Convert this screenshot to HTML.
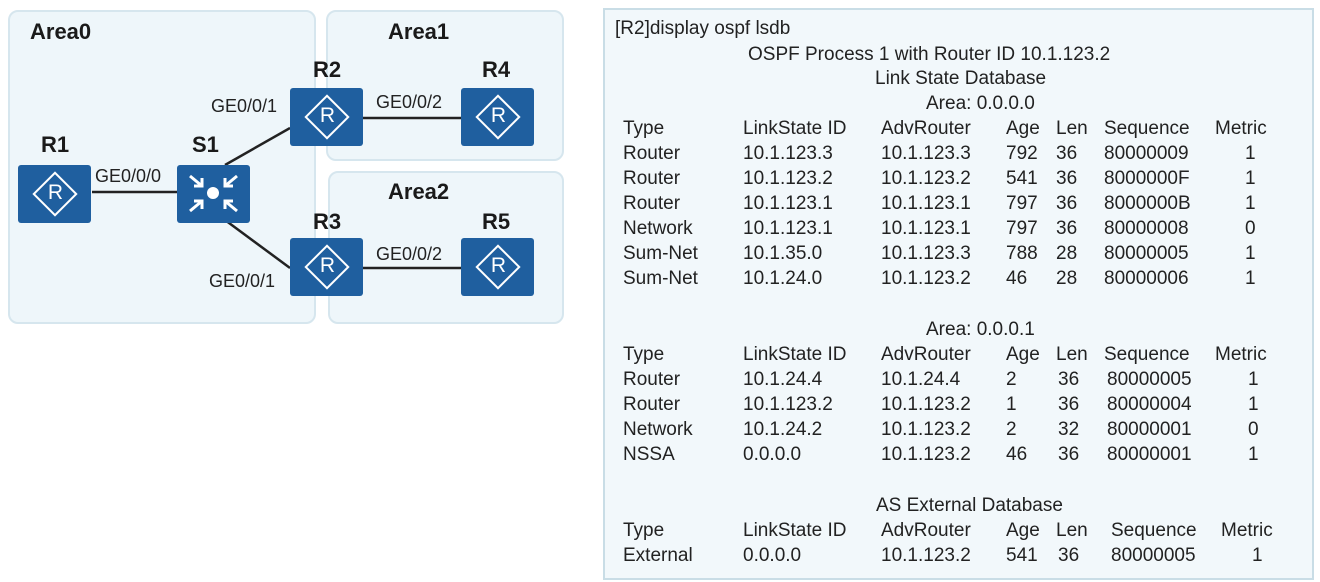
<!DOCTYPE html>
<html><head><meta charset="utf-8"><style>
body{margin:0;width:1320px;height:582px;background:#fff;position:relative;overflow:hidden;font-family:"Liberation Sans",sans-serif;color:#222}
.a{position:absolute;background:#eef6fa;border:2px solid #d6e6ee;border-radius:10px;box-sizing:border-box}
.t{position:absolute;font-size:19px;line-height:22px;white-space:nowrap}
.b{position:absolute;font-weight:bold;font-size:22px;line-height:24px;color:#1a1a1a}
.l{position:absolute;font-size:18px;line-height:20px;color:#222}
.r{position:absolute;width:73px;height:58px;background:#1f5f9f;border-radius:3px}
.r:before{content:"";position:absolute;left:21px;top:13px;width:28px;height:28px;border:2px solid #fff;transform:rotate(45deg)}
.r:after{content:"R";position:absolute;left:0;width:75px;top:16px;text-align:center;color:#fff;font-size:21px;line-height:24px}
</style></head><body>
<div class="a" style="left:8px;top:10px;width:308px;height:314px"></div>
<div class="a" style="left:326px;top:10px;width:238px;height:151px"></div>
<div class="a" style="left:328px;top:171px;width:236px;height:153px"></div>
<div class="a" style="left:603px;top:8px;width:711px;height:572px;border-radius:0;border-color:#c9dde6;background:#f2f8fb"></div>
<svg style="position:absolute;left:0;top:0" width="600" height="330">
<g stroke="#222" stroke-width="2.5">
<line x1="92" y1="192" x2="177" y2="192"/>
<line x1="225" y1="165" x2="290" y2="128"/>
<line x1="225" y1="220" x2="290" y2="268"/>
<line x1="363" y1="118" x2="461" y2="118"/>
<line x1="363" y1="268" x2="461" y2="268"/>
</g>
<rect x="177" y="165" width="73" height="58" rx="3" fill="#1f5f9f"/>
<circle cx="213" cy="193" r="6" fill="#fff"/>
<g stroke="#fff" stroke-width="3" fill="none">
<path d="M190 176 L202 186 M202 178 L202 186 L194 186"/>
<path d="M237 176 L225 186 M225 178 L225 186 L233 186"/>
<path d="M190 211 L202 201 M202 209 L202 201 L194 201"/>
<path d="M237 211 L225 201 M225 209 L225 201 L233 201"/>
</g>
</svg>
<div class="r" style="left:18px;top:165px"></div>
<div class="r" style="left:290px;top:88px"></div>
<div class="r" style="left:461px;top:88px"></div>
<div class="r" style="left:290px;top:238px"></div>
<div class="r" style="left:461px;top:238px"></div>
<div class="b" style="left:30px;top:20px">Area0</div>
<div class="b" style="left:388px;top:20px">Area1</div>
<div class="b" style="left:388px;top:180px">Area2</div>
<div class="b" style="left:41px;top:133px">R1</div>
<div class="b" style="left:192px;top:133px">S1</div>
<div class="b" style="left:313px;top:58px">R2</div>
<div class="b" style="left:482px;top:58px">R4</div>
<div class="b" style="left:313px;top:210px">R3</div>
<div class="b" style="left:482px;top:210px">R5</div>
<div class="l" style="left:95px;top:166px">GE0/0/0</div>
<div class="l" style="left:211px;top:96px">GE0/0/1</div>
<div class="l" style="left:376px;top:92px">GE0/0/2</div>
<div class="l" style="left:209px;top:271px">GE0/0/1</div>
<div class="l" style="left:376px;top:244px">GE0/0/2</div>

<div class="t" style="left:615px;top:18px">[R2]display ospf lsdb</div>
<div class="t" style="left:748px;top:44px">OSPF Process 1 with Router ID 10.1.123.2</div>
<div class="t" style="left:875px;top:68px">Link State Database</div>
<div class="t" style="left:926px;top:93px">Area: 0.0.0.0</div>
<div class="t" style="left:623px;top:118px">Type</div><div class="t" style="left:743px;top:118px">LinkState ID</div><div class="t" style="left:881px;top:118px">AdvRouter</div><div class="t" style="left:1006px;top:118px">Age</div><div class="t" style="left:1056px;top:118px">Len</div><div class="t" style="left:1104px;top:118px">Sequence</div><div class="t" style="left:1215px;top:118px">Metric</div>

<div class="t" style="left:623px;top:143px">Router</div><div class="t" style="left:743px;top:143px">10.1.123.3</div><div class="t" style="left:881px;top:143px">10.1.123.3</div><div class="t" style="left:1006px;top:143px">792</div><div class="t" style="left:1056px;top:143px">36</div><div class="t" style="left:1104px;top:143px">80000009</div><div class="t" style="left:1245px;top:143px">1</div>
<div class="t" style="left:623px;top:168px">Router</div><div class="t" style="left:743px;top:168px">10.1.123.2</div><div class="t" style="left:881px;top:168px">10.1.123.2</div><div class="t" style="left:1006px;top:168px">541</div><div class="t" style="left:1056px;top:168px">36</div><div class="t" style="left:1104px;top:168px">8000000F</div><div class="t" style="left:1245px;top:168px">1</div>
<div class="t" style="left:623px;top:193px">Router</div><div class="t" style="left:743px;top:193px">10.1.123.1</div><div class="t" style="left:881px;top:193px">10.1.123.1</div><div class="t" style="left:1006px;top:193px">797</div><div class="t" style="left:1056px;top:193px">36</div><div class="t" style="left:1104px;top:193px">8000000B</div><div class="t" style="left:1245px;top:193px">1</div>
<div class="t" style="left:623px;top:218px">Network</div><div class="t" style="left:743px;top:218px">10.1.123.1</div><div class="t" style="left:881px;top:218px">10.1.123.1</div><div class="t" style="left:1006px;top:218px">797</div><div class="t" style="left:1056px;top:218px">36</div><div class="t" style="left:1104px;top:218px">80000008</div><div class="t" style="left:1245px;top:218px">0</div>
<div class="t" style="left:623px;top:243px">Sum-Net</div><div class="t" style="left:743px;top:243px">10.1.35.0</div><div class="t" style="left:881px;top:243px">10.1.123.3</div><div class="t" style="left:1006px;top:243px">788</div><div class="t" style="left:1056px;top:243px">28</div><div class="t" style="left:1104px;top:243px">80000005</div><div class="t" style="left:1245px;top:243px">1</div>
<div class="t" style="left:623px;top:268px">Sum-Net</div><div class="t" style="left:743px;top:268px">10.1.24.0</div><div class="t" style="left:881px;top:268px">10.1.123.2</div><div class="t" style="left:1006px;top:268px">46</div><div class="t" style="left:1056px;top:268px">28</div><div class="t" style="left:1104px;top:268px">80000006</div><div class="t" style="left:1245px;top:268px">1</div>

<div class="t" style="left:926px;top:319px">Area: 0.0.0.1</div>
<div class="t" style="left:623px;top:344px">Type</div><div class="t" style="left:743px;top:344px">LinkState ID</div><div class="t" style="left:881px;top:344px">AdvRouter</div><div class="t" style="left:1006px;top:344px">Age</div><div class="t" style="left:1056px;top:344px">Len</div><div class="t" style="left:1104px;top:344px">Sequence</div><div class="t" style="left:1215px;top:344px">Metric</div>
<div class="t" style="left:623px;top:369px">Router</div><div class="t" style="left:743px;top:369px">10.1.24.4</div><div class="t" style="left:881px;top:369px">10.1.24.4</div><div class="t" style="left:1006px;top:369px">2</div><div class="t" style="left:1058px;top:369px">36</div><div class="t" style="left:1107px;top:369px">80000005</div><div class="t" style="left:1248px;top:369px">1</div>
<div class="t" style="left:623px;top:394px">Router</div><div class="t" style="left:743px;top:394px">10.1.123.2</div><div class="t" style="left:881px;top:394px">10.1.123.2</div><div class="t" style="left:1006px;top:394px">1</div><div class="t" style="left:1058px;top:394px">36</div><div class="t" style="left:1107px;top:394px">80000004</div><div class="t" style="left:1248px;top:394px">1</div>
<div class="t" style="left:623px;top:419px">Network</div><div class="t" style="left:743px;top:419px">10.1.24.2</div><div class="t" style="left:881px;top:419px">10.1.123.2</div><div class="t" style="left:1006px;top:419px">2</div><div class="t" style="left:1058px;top:419px">32</div><div class="t" style="left:1107px;top:419px">80000001</div><div class="t" style="left:1248px;top:419px">0</div>
<div class="t" style="left:623px;top:444px">NSSA</div><div class="t" style="left:743px;top:444px">0.0.0.0</div><div class="t" style="left:881px;top:444px">10.1.123.2</div><div class="t" style="left:1006px;top:444px">46</div><div class="t" style="left:1058px;top:444px">36</div><div class="t" style="left:1107px;top:444px">80000001</div><div class="t" style="left:1248px;top:444px">1</div>

<div class="t" style="left:876px;top:495px">AS External Database</div>
<div class="t" style="left:623px;top:520px">Type</div><div class="t" style="left:743px;top:520px">LinkState ID</div><div class="t" style="left:881px;top:520px">AdvRouter</div><div class="t" style="left:1006px;top:520px">Age</div><div class="t" style="left:1056px;top:520px">Len</div><div class="t" style="left:1111px;top:520px">Sequence</div><div class="t" style="left:1221px;top:520px">Metric</div>
<div class="t" style="left:623px;top:545px">External</div><div class="t" style="left:743px;top:545px">0.0.0.0</div><div class="t" style="left:881px;top:545px">10.1.123.2</div><div class="t" style="left:1006px;top:545px">541</div><div class="t" style="left:1058px;top:545px">36</div><div class="t" style="left:1111px;top:545px">80000005</div><div class="t" style="left:1252px;top:545px">1</div>
</body></html>
